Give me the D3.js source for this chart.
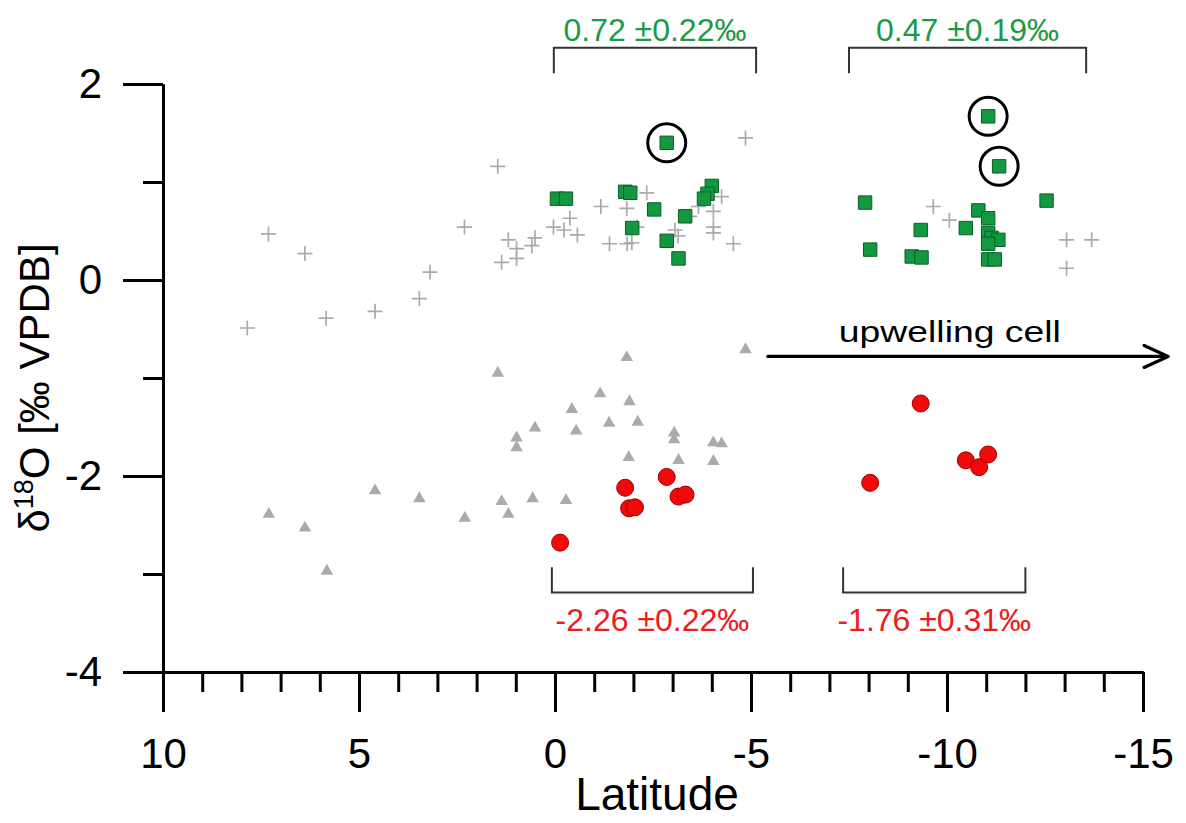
<!DOCTYPE html>
<html>
<head>
<meta charset="utf-8">
<script src="https://cdn.jsdelivr.net/npm/d3@7"></script>
<style>
  body { margin: 0; background: #fff; }
  svg { display: block; }
  text { font-family: "Liberation Sans", Arial, Helvetica, sans-serif; }
</style>
</head>
<body>
<svg id="chart" width="1186" height="823"></svg>
<script>
// [latitude, δ18O] pairs for each sample group
const bulkCrosses = [
  [7.85, -0.49], [7.31, 0.47], [6.38, 0.27], [5.84, -0.39], [4.59, -0.32], [3.46, -0.19],
  [3.19, 0.08], [2.31, 0.54], [1.46, 1.16], [1.36, 0.18], [1.19, 0.41], [0.98, 0.32],
  [0.98, 0.22], [0.59, 0.35], [0.51, 0.43], [0.04, 0.54], [-0.23, 0.51], [-0.38, 0.63],
  [-0.57, 0.46], [-1.17, 0.75], [-1.39, 0.37], [-1.83, 0.73], [-1.84, 0.37], [-1.96, 0.38],
  [-2.09, 0.54], [-2.34, 0.89], [-3.06, 0.51], [-3.14, 0.45], [-3.44, 0.65], [-3.66, 0.75],
  [-4.04, 0.70], [-4.04, 0.54], [-4.04, 0.48], [-4.25, 0.85], [-4.55, 0.37], [-4.86, 1.45],
  [-9.65, 0.75], [-10.06, 0.61], [-13.05, 0.41], [-13.69, 0.41], [-13.05, 0.12]
];
const bulkTriangles = [
  [7.30, -2.39], [6.38, -2.53], [5.82, -2.97], [4.59, -2.15], [3.46, -2.23], [2.30, -2.43],
  [1.46, -0.95], [1.36, -2.26], [1.19, -2.39], [0.98, -1.61], [0.98, -1.71], [0.57, -2.23],
  [0.51, -1.51], [-0.28, -2.25], [-0.43, -1.32], [-0.54, -1.54], [-1.15, -1.16], [-1.38, -1.46],
  [-1.83, -0.79], [-1.90, -1.24], [-2.11, -1.45], [-1.88, -1.81], [-3.04, -1.56], [-3.04, -1.63],
  [-3.15, -1.84], [-4.04, -1.66], [-4.25, -1.67], [-4.04, -1.85], [-4.86, -0.71]
];
const greenSquares = [
  [-2.85, 1.40], [-0.05, 0.83], [-0.28, 0.83], [-1.79, 0.90], [-1.92, 0.89], [-2.53, 0.72],
  [-1.97, 0.53], [-3.32, 0.65], [-2.85, 0.40], [-3.15, 0.22], [-4.00, 0.96], [-3.89, 0.88],
  [-3.80, 0.83],
  [-11.05, 1.67], [-11.33, 1.16], [-7.91, 0.79], [-12.54, 0.81], [-10.80, 0.71], [-11.05, 0.63],
  [-9.33, 0.51], [-10.48, 0.53], [-11.05, 0.48], [-11.14, 0.43], [-11.31, 0.41], [-11.05, 0.37],
  [-8.04, 0.31], [-9.10, 0.24], [-9.35, 0.23], [-11.05, 0.21], [-11.22, 0.21]
];
const circledSquares = [[-2.85, 1.40], [-11.05, 1.67], [-11.33, 1.16]];
const redCircles = [
  [-0.13, -2.68], [-1.79, -2.12], [-1.89, -2.33], [-2.04, -2.32], [-2.85, -2.01], [-3.15, -2.21],
  [-3.33, -2.19],
  [-9.33, -1.26], [-8.04, -2.07], [-10.48, -1.84], [-10.82, -1.91], [-11.05, -1.78]
];

// group means shown with brackets: [lat from, lat to, bracket level, tick end, label, colour, side]
const brackets = [
  [0.03, -5.13, 2.37, 2.11, "0.72 \u00B10.22\u2030", "#1c9a45", "top"],
  [-7.50, -13.55, 2.37, 2.11, "0.47 \u00B10.19\u2030", "#1c9a45", "top"],
  [0.08, -5.05, -3.19, -2.93, "-2.26 \u00B10.22\u2030", "#ee1c1c", "bottom"],
  [-7.35, -12.00, -3.19, -2.93, "-1.76 \u00B10.31\u2030", "#ee1c1c", "bottom"]
];
const upwellingArrow = { from: -5.43, to: -15.64, level: -0.78, label: "upwelling cell" };

const xMajor = [10, 5, 0, -5, -10, -15];
const xMinor = d3.range(10, -16, -1).filter(d => d % 5 !== 0);
const yMajor = [2, 0, -2, -4];
const yMinor = [1, -1, -3];

const svg = d3.select("#chart");
const x = d3.scaleLinear().domain([10, -15]).range([163, 1143]);
const y = d3.scaleLinear().domain([2, -4]).range([84, 672]);

// axes
function styleAxis(g) {
  g.selectAll("path, line").attr("stroke", "#000").attr("stroke-width", 3);
  g.selectAll("text").attr("fill", "#000").attr("font-size", 42);
}
svg.append("g").attr("transform", `translate(0,${y(-4)})`)
  .call(d3.axisBottom(x).tickValues(xMinor).tickSize(20).tickSizeOuter(0).tickFormat(""))
  .call(styleAxis);
svg.append("g").attr("transform", `translate(0,${y(-4)})`)
  .call(d3.axisBottom(x).tickValues(xMajor).tickSize(40).tickSizeOuter(0).tickPadding(26).tickFormat(d => String(d)))
  .call(styleAxis);
svg.append("g").attr("transform", `translate(${x(10)},0)`)
  .call(d3.axisLeft(y).tickValues(yMinor).tickSize(20).tickSizeOuter(0).tickFormat(""))
  .call(styleAxis);
svg.append("g").attr("transform", `translate(${x(10)},0)`)
  .call(d3.axisLeft(y).tickValues(yMajor).tickSize(40).tickSizeOuter(0).tickPadding(21).tickFormat(d => String(d)))
  .call(styleAxis);

// axis titles
svg.append("text")
  .attr("x", (x(10) + x(-15)) / 2 + 4).attr("y", 810)
  .attr("text-anchor", "middle").attr("font-size", 46).attr("fill", "#000")
  .text("Latitude");
const yTitle = svg.append("text")
  .attr("transform", `translate(49,${(y(2) + y(-4)) / 2 + 10}) rotate(-90)`)
  .attr("text-anchor", "middle").attr("font-size", 42).attr("fill", "#000");
yTitle.append("tspan").text("\u03B4");
yTitle.append("tspan").attr("font-size", 27).attr("dy", -16).text("18");
yTitle.append("tspan").attr("dy", 16).text("O [\u2030 VPDB]");

// gray bulk data
svg.append("g").selectAll("path").data(bulkCrosses).join("path")
  .attr("d", d => `M${x(d[0]) - 7.5},${y(d[1])}h15M${x(d[0])},${y(d[1]) - 7.5}v15`)
  .attr("stroke", "#ababab").attr("stroke-width", 1.7).attr("fill", "none");
svg.append("g").selectAll("path").data(bulkTriangles).join("path")
  .attr("transform", d => `translate(${x(d[0])},${y(d[1])})`)
  .attr("d", d3.symbol(d3.symbolTriangle, 68))
  .attr("fill", "#ababab");

// green squares and red circles
svg.append("g").selectAll("path").data(greenSquares).join("path")
  .attr("transform", d => `translate(${x(d[0])},${y(d[1])})`)
  .attr("d", d3.symbol(d3.symbolSquare, 180))
  .attr("fill", "#12983f").attr("stroke", "#0a5f26").attr("stroke-width", 1);
svg.append("g").selectAll("circle").data(redCircles).join("circle")
  .attr("cx", d => x(d[0])).attr("cy", d => y(d[1])).attr("r", 8.5)
  .attr("fill", "#f00a0a").attr("stroke", "#a00000").attr("stroke-width", 1);

// rings around excluded samples
svg.append("g").selectAll("circle").data(circledSquares).join("circle")
  .attr("cx", d => x(d[0])).attr("cy", d => y(d[1])).attr("r", 19)
  .attr("fill", "none").attr("stroke", "#000").attr("stroke-width", 3);

// bracket annotations with group means
brackets.forEach(([a, b, lvl, tip, label, colour, side]) => {
  svg.append("path")
    .attr("d", `M${x(a)},${y(tip)}V${y(lvl)}H${x(b)}V${y(tip)}`)
    .attr("fill", "none").attr("stroke", "#333").attr("stroke-width", 2);
  svg.append("text")
    .attr("x", (x(a) + x(b)) / 2)
    .attr("y", side === "top" ? y(lvl) - 7 : y(lvl) + 38)
    .attr("text-anchor", "middle").attr("font-size", 32).attr("fill", colour)
    .text(label);
});

// upwelling arrow
const ay = y(upwellingArrow.level);
const ax0 = x(upwellingArrow.from), ax1 = x(upwellingArrow.to);
svg.append("path")
  .attr("d", `M${ax0},${ay}H${ax1}M${ax1 - 24},${ay - 11}L${ax1},${ay}L${ax1 - 24},${ay + 11}`)
  .attr("fill", "none").attr("stroke", "#000").attr("stroke-width", 3.2)
  .attr("stroke-linecap", "round").attr("stroke-linejoin", "round");
svg.append("text")
  .attr("x", ax0 + 71).attr("y", ay - 14)
  .attr("font-size", 30).attr("fill", "#000")
  .attr("textLength", 222).attr("lengthAdjust", "spacingAndGlyphs")
  .text(upwellingArrow.label);
</script>
</body>
</html>
